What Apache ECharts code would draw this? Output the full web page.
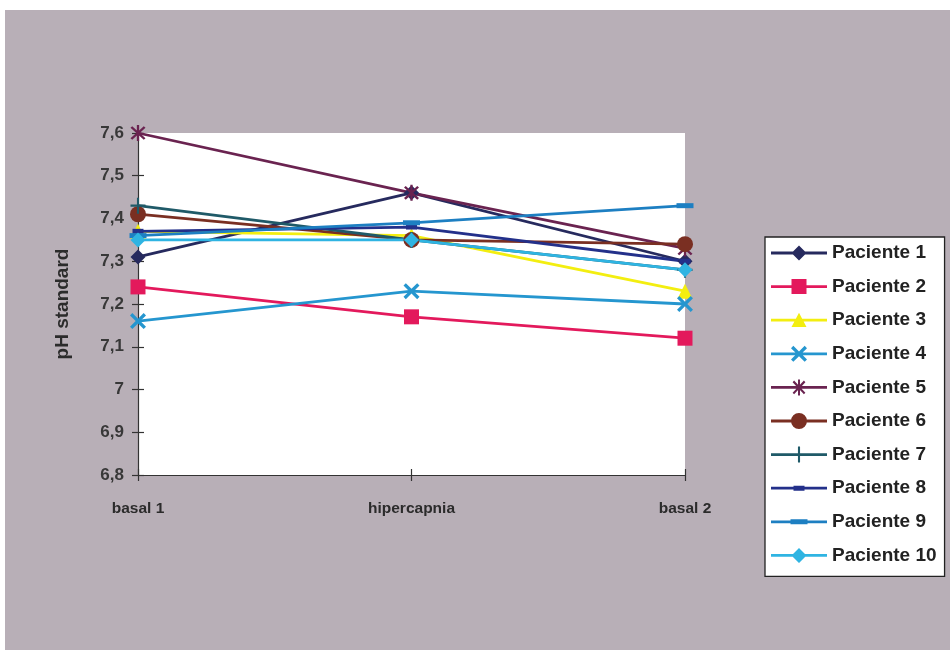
<!DOCTYPE html>
<html>
<head>
<meta charset="utf-8">
<title>pH standard</title>
<script src="https://cdn.jsdelivr.net/npm/echarts@6/dist/echarts.min.js"></script>
<style>
  html, body { margin: 0; padding: 0; background: #ffffff; }
  #bg { position: absolute; left: 5px; top: 10px; right: 0; bottom: 0; background: #b8afb7; }
  #chart { position: absolute; left: 0; top: 0; width: 950px; height: 650px; }
</style>
</head>
<body>
<div id="bg"></div>
<div id="chart"></div>
<script>
// Measurement times
const categories = ['basal 1', 'hipercapnia', 'basal 2'];

// pH standard per patient at each time
const paciente1  = [7.31, 7.46, 7.30];
const paciente2  = [7.24, 7.17, 7.12];
const paciente3  = [7.37, 7.36, 7.23];
const paciente4  = [7.16, 7.23, 7.20];
const paciente5  = [7.60, 7.46, 7.33];
const paciente6  = [7.41, 7.35, 7.34];
const paciente7  = [7.43, 7.35, 7.28];
const paciente8  = [7.37, 7.38, 7.30];
const paciente9  = [7.36, 7.39, 7.43];
const paciente10 = [7.35, 7.35, 7.28];

const seriesNames = ['Paciente 1', 'Paciente 2', 'Paciente 3', 'Paciente 4', 'Paciente 5',
                     'Paciente 6', 'Paciente 7', 'Paciente 8', 'Paciente 9', 'Paciente 10'];
const seriesValues = [paciente1, paciente2, paciente3, paciente4, paciente5,
                      paciente6, paciente7, paciente8, paciente9, paciente10];

// Value axis range
const yMin = 6.8, yMax = 7.6, yStep = 0.1;

// ---- marker geometry (unit shapes, clockwise polygons) ----
function plusPoly(w) {
  return [[w,-w],[1,-w],[1,w],[w,w],[w,1],[-w,1],[-w,w],[-1,w],[-1,-w],[-w,-w],[-w,-1],[w,-1]];
}
function rotate45(poly) {
  const r = Math.SQRT1_2;
  const pts = poly.map(([x, y]) => [(x - y) * r, (x + y) * r]);
  const m = Math.max(...pts.map(p => Math.max(Math.abs(p[0]), Math.abs(p[1]))));
  return pts.map(([x, y]) => [x / m, y / m]);
}
function scalePoly(poly, s) { return poly.map(([x, y]) => [x * s, y * s]); }

const shapes = {
  diamond:  [[[0,-1],[1,0],[0,1],[-1,0]]],
  square:   [[[-1,-1],[1,-1],[1,1],[-1,1]]],
  triangle: [[[0,-1],[1,0.9],[-1,0.9]]],
  cross:    [rotate45(plusPoly(0.17))],
  asterisk: [scalePoly(rotate45(plusPoly(0.13)), 0.85), [[-0.13,-1],[0.13,-1],[0.13,1],[-0.13,1]]],
  plus:     [plusPoly(0.14)],
  dashS:    [[[-1,-1],[1,-1],[1,1],[-1,1]]],
  dashL:    [[[-1,-1],[1,-1],[1,1],[-1,1]]]
};

function polysToPath(polys, cx, cy, rx, ry) {
  const f = v => (Math.round(v * 1000) / 1000);
  return polys.map(poly => 'M' + poly.map(([x, y]) => f(cx + x * rx) + ',' + f(cy + y * ry)).join('L') + 'Z').join('');
}
function circlePath(cx, cy, r) {
  return 'M' + (cx + r) + ',' + cy + 'A' + r + ',' + r + ' 0 1 1 ' + (cx - r) + ',' + cy +
         'A' + r + ',' + r + ' 0 1 1 ' + (cx + r) + ',' + cy + 'Z';
}

// ---- per-series styling ----
const styles = [
  { color: '#262a5e', marker: 'diamond',  size: [15, 15] },
  { color: '#e3195c', marker: 'square',   size: [15, 15] },
  { color: '#f3ee10', marker: 'triangle', size: [15, 15] },
  { color: '#2596cf', marker: 'cross',    size: [16, 16] },
  { color: '#6a2350', marker: 'asterisk', size: [15, 16] },
  { color: '#7a2f22', marker: 'circle',   size: [16, 16] },
  { color: '#1f5a68', marker: 'plus',     size: [15, 16] },
  { color: '#23308a', marker: 'dashS',    size: [11, 5] },
  { color: '#1d7fc2', marker: 'dashL',    size: [17, 5] },
  { color: '#2fb4e2', marker: 'diamond',  size: [15, 15] }
];

function seriesSymbol(marker) {
  if (marker === 'diamond') return 'diamond';
  if (marker === 'square') return 'rect';
  if (marker === 'triangle') return 'triangle';
  if (marker === 'circle') return 'circle';
  return 'path://' + polysToPath(shapes[marker], 0, 0, 10, 10);
}

// Legend icon: line segment + marker, framed to itemWidth x itemHeight
const LW = 56, LH = 16;
function legendIcon(st) {
  const cx = LW / 2, cy = LH / 2;
  let p = 'M0,0L0.01,0L0.01,0.01Z' + 'M' + LW + ',' + LH + 'L' + (LW - 0.01) + ',' + LH + 'L' + (LW - 0.01) + ',' + (LH - 0.01) + 'Z';
  p += polysToPath([[[0,-1],[1,-1],[1,1],[0,1]]], 0, cy, LW, 1.4);
  if (st.marker === 'circle') {
    p += circlePath(cx, cy, st.size[0] / 2);
  } else {
    p += polysToPath(shapes[st.marker], cx, cy, st.size[0] / 2, st.size[1] / 2);
  }
  return 'path://' + p;
}

const series = seriesNames.map((name, i) => ({
  name: name,
  type: 'line',
  data: seriesValues[i],
  symbol: seriesSymbol(styles[i].marker),
  symbolSize: styles[i].size,
  showAllSymbol: true,
  clip: false,
  lineStyle: { color: styles[i].color, width: 2.8 },
  itemStyle: { color: styles[i].color, borderWidth: 0 },
  emphasis: { disabled: true }
}));

const axisTextColor = '#2b2b2b';
const tickFmt = v => String(+v.toFixed(2)).replace('.', ',');

const option = {
  animation: false,
  backgroundColor: 'transparent',
  textStyle: { fontFamily: 'Liberation Sans, Arial, sans-serif' },
  grid: {
    left: 138, right: 265, top: 133, bottom: 175,
    show: true, backgroundColor: '#ffffff', borderWidth: 0
  },
  xAxis: [
    {
      type: 'category', data: categories, boundaryGap: false, position: 'bottom',
      axisLine: { lineStyle: { color: '#333', width: 1.2 } },
      axisTick: { show: true, length: 6, lineStyle: { color: '#333', width: 1.2 } },
      axisLabel: { margin: 26, fontSize: 15.5, fontWeight: 'bold', color: axisTextColor }
    },
    {
      type: 'category', data: categories, boundaryGap: false, position: 'bottom',
      axisLine: { show: false },
      axisTick: { show: true, inside: true, length: 6, lineStyle: { color: '#333', width: 1.2 } },
      axisLabel: { show: false }, splitLine: { show: false }
    }
  ],
  yAxis: [
    {
      type: 'value', min: yMin, max: yMax, interval: yStep, position: 'left',
      name: 'pH standard', nameLocation: 'middle', nameGap: 66, nameRotate: 90,
      nameTextStyle: { fontSize: 19, fontWeight: 'bold', color: axisTextColor },
      axisLine: { show: true, lineStyle: { color: '#333', width: 1.2 } },
      axisTick: { show: true, length: 6, lineStyle: { color: '#333', width: 1.2 } },
      axisLabel: { margin: 14, fontSize: 17, fontWeight: 'bold', color: '#383838', formatter: tickFmt },
      splitLine: { show: false }
    },
    {
      type: 'value', min: yMin, max: yMax, interval: yStep, position: 'left',
      axisLine: { show: false },
      axisTick: { show: true, inside: true, length: 6, lineStyle: { color: '#333', width: 1.2 } },
      axisLabel: { show: false }, splitLine: { show: false }
    }
  ],
  legend: {
    orient: 'vertical',
    left: 765, top: 237,
    padding: [6, 8, 11, 6],
    itemWidth: LW, itemHeight: LH, itemGap: 13.6,
    backgroundColor: '#ffffff',
    borderColor: '#222', borderWidth: 1.3,
    selectedMode: false,
    itemStyle: { borderWidth: 0 },
    textStyle: { fontSize: 19, lineHeight: 20, color: '#222', fontWeight: 'bold',
                 fontFamily: 'Liberation Sans, Arial, sans-serif', padding: [0, 0, 0, 0] },
    data: seriesNames.map((name, i) => ({ name: name, icon: legendIcon(styles[i]) }))
  },
  series: series
};

const chart = echarts.init(document.getElementById('chart'), null, { renderer: 'canvas' });
chart.setOption(option);
</script>
</body>
</html>
